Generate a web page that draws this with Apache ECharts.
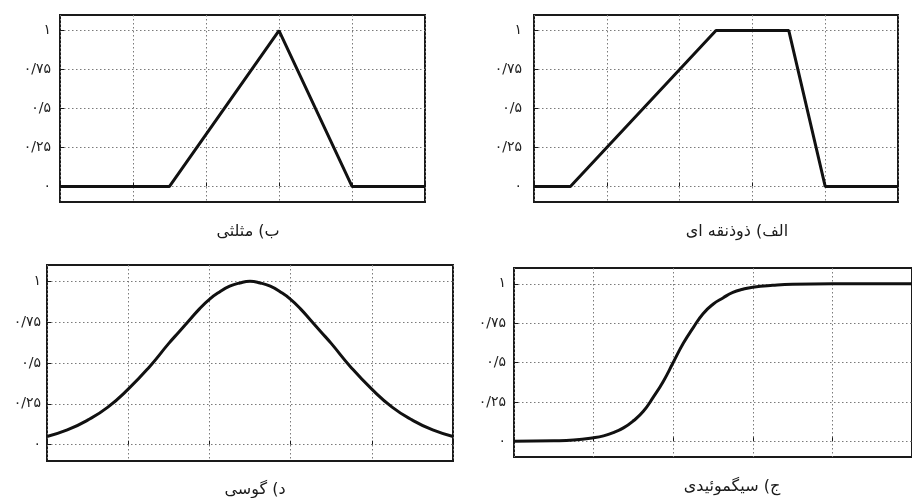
<!DOCTYPE html>
<html>
<head>
<meta charset="utf-8">
<script src="https://cdn.jsdelivr.net/npm/echarts@6/dist/echarts.min.js"></script>
<style>
  html, body { margin: 0; padding: 0; background: #ffffff; }
  #chart { width: 912px; height: 498px; }
</style>
</head>
<body>
<div id="chart"></div>
<script>
// ---- data ----
const yTickValues = [0, 0.25, 0.5, 0.75, 1];
const yTickLabels = ['۰', '۰/۲۵', '۰/۵', '۰/۷۵', '۱'];

const triangleX = [0, 3, 6, 8, 10];
const triangleY = [0, 0, 1, 0, 0];

const trapezoidX = [0, 1, 5, 7, 8, 10];
const trapezoidY = [0, 0, 1, 1, 0, 0];

const gaussX = [0, 0.5, 1, 1.5, 2, 2.5, 3, 3.25, 3.5, 3.75, 4, 4.25, 4.5, 4.75, 5,
                5.25, 5.5, 5.75, 6, 6.25, 6.5, 6.75, 7, 7.5, 8, 8.5, 9, 9.5, 10];
const gaussY = [0.05, 0.09, 0.15, 0.23, 0.34, 0.47, 0.62, 0.69, 0.76, 0.83, 0.89, 0.935, 0.97, 0.99, 1.0,
                0.99, 0.97, 0.935, 0.89, 0.83, 0.76, 0.69, 0.62, 0.47, 0.34, 0.23, 0.15, 0.09, 0.05];

const sigmoidX = [0, 1, 1.5, 2, 2.25, 2.5, 2.75, 3, 3.25, 3.5, 3.75, 4, 4.25, 4.5, 4.75, 5,
                  5.25, 5.5, 5.75, 6, 6.5, 7, 8, 9, 10];
const sigmoidY = [0.0, 0.003, 0.008, 0.022, 0.034, 0.055, 0.085, 0.13, 0.19, 0.28, 0.38, 0.5, 0.62, 0.72, 0.81, 0.87,
                  0.91, 0.945, 0.965, 0.978, 0.99, 0.997, 1.0, 1.0, 1.0];

const captions = ['ب) مثلثی', 'الف) ذوذنقه ای', 'د) گوسی', 'ج) سیگموئیدی'];

// ---- layout (pixels) ----
const panels = [
  { left: 60,  top: 15,  width: 365, height: 187, labelMargin: 9,  cap: [248, 232] },
  { left: 534, top: 15,  width: 364, height: 187, labelMargin: 12, cap: [737, 232] },
  { left: 47,  top: 265, width: 406, height: 196, labelMargin: 6,  cap: [255, 490] },
  { left: 514, top: 268, width: 410, height: 189, labelMargin: 8,  cap: [732, 487] }
];
const seriesXs = [triangleX, trapezoidX, gaussX, sigmoidX];
const seriesYs = [triangleY, trapezoidY, gaussY, sigmoidY];
const smoothFlags = [false, false, true, true];

const FONT = 'DejaVu Sans';
const gridLineStyle = { color: '#7a7a7a', width: 1, type: [1.5, 2.5] };

const chart = echarts.init(document.getElementById('chart'), null, { renderer: 'canvas' });

const option = {
  backgroundColor: '#ffffff',
  animation: false,
  grid: panels.map(p => ({
    left: p.left, top: p.top, width: p.width, height: p.height,
    show: true, borderColor: '#1a1a1a', borderWidth: 2, backgroundColor: 'transparent',
    containLabel: false
  })),
  xAxis: panels.map((p, i) => ({
    type: 'value', gridIndex: i, min: 0, max: 10, interval: 2,
    axisLine: { show: false },
    axisLabel: { show: false },
    axisTick: { show: true, inside: true, length: 4, lineStyle: { color: '#1a1a1a', width: 1 } },
    splitLine: { show: true, lineStyle: gridLineStyle }
  })),
  yAxis: panels.map((p, i) => ({
    type: 'value', gridIndex: i, min: -0.1, max: 1.1,
    axisLine: { show: false },
    axisTick: { show: true, inside: true, length: 4, customValues: yTickValues, lineStyle: { color: '#1a1a1a', width: 1 } },
    axisLabel: {
      show: true, customValues: yTickValues, margin: p.labelMargin,
      fontFamily: FONT, fontSize: 14, color: '#222',
      formatter: v => {
        const k = yTickValues.findIndex(t => Math.abs(t - v) < 1e-9);
        return k >= 0 ? yTickLabels[k] : '';
      }
    },
    splitLine: { show: true, lineStyle: gridLineStyle }
  })),
  series: panels.map((p, i) => ({
    type: 'line', xAxisIndex: i, yAxisIndex: i,
    data: seriesXs[i].map((x, k) => [x, seriesYs[i][k]]),
    showSymbol: false, smooth: smoothFlags[i] ? 0.5 : false,
    lineStyle: { color: '#111111', width: 3 },
    z: 3
  })),
  graphic: panels.map((p, i) => ({
    type: 'text', x: p.cap[0], y: p.cap[1],
    style: {
      text: captions[i],
      fill: '#1a1a1a', font: '16px "' + FONT + '"',
      textAlign: 'center', textVerticalAlign: 'middle'
    }
  }))
};

chart.setOption(option);
</script>
</body>
</html>
